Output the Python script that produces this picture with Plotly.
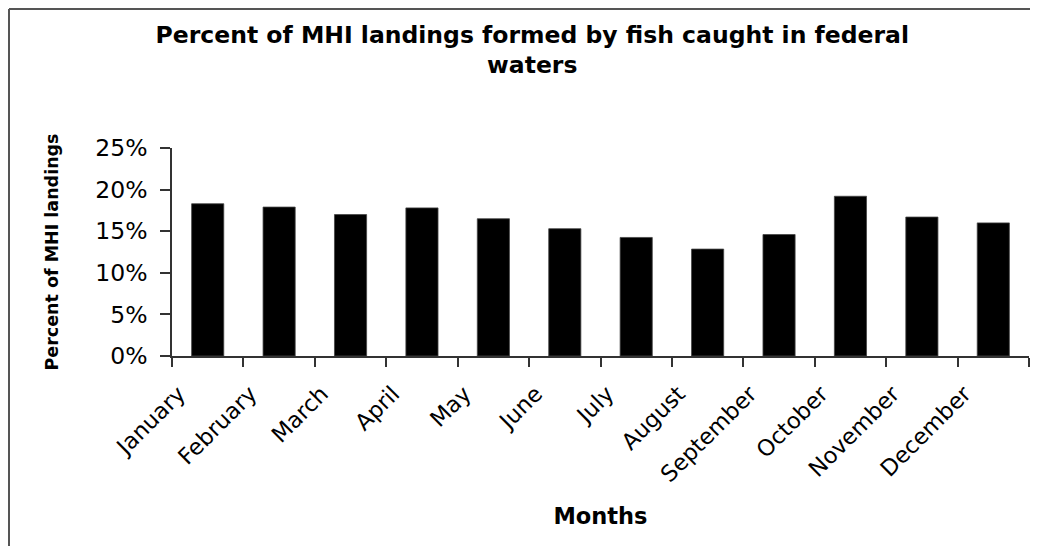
import plotly.graph_objects as go

months = ["January", "February", "March", "April", "May", "June", "July",
          "August", "September", "October", "November", "December"]
pct_federal = [0.183, 0.179, 0.170, 0.178, 0.165, 0.153, 0.1425,
               0.1285, 0.146, 0.192, 0.167, 0.160]
y_ticks = [0, 0.05, 0.10, 0.15, 0.20, 0.25]

FONT = "DejaVu Sans"
AX = "#333333"

fig = go.Figure()
fig.add_trace(go.Bar(
    x=months, y=pct_federal,
    marker=dict(color="black", line=dict(color="#444444", width=0.8)),
    width=0.45,
))

# the page body has an 8px margin, so the figure is sized to fit inside the window
W, H = 1022, 538
L, R, T, B = 164, 1, 140, 190
pw, ph = W - L - R, H - T - B

fig.update_layout(
    width=W, height=H,
    margin=dict(l=L, r=R, t=T, b=B),
    paper_bgcolor="white", plot_bgcolor="white",
    showlegend=False,
    font=dict(family=FONT, color="black"),
    title=dict(
        text="<b>Percent of MHI landings formed by fish caught in federal<br>waters</b>",
        font=dict(family=FONT, size=23.5, color="black"),
        x=0.513, xref="container", xanchor="center",
        y=1 - 34.5 / H, yref="container", yanchor="middle",
    ),
    xaxis=dict(
        type="category",
        range=[-0.5, 11.5],
        showline=True, linecolor=AX, linewidth=1.5,
        ticks="outside", tickson="boundaries", ticklen=9, tickwidth=1.5, tickcolor=AX,
        tickangle=-45,
        tickfont=dict(family=FONT, size=22.5, color="black"),
        ticklabelshift=-29, ticklabelstandoff=14,
        showgrid=False, zeroline=False,
        title=dict(text="<b>Months</b>", font=dict(family=FONT, size=22.5, color="black"), standoff=22),
    ),
    yaxis=dict(
        range=[0, 0.25],
        tickvals=y_ticks, tickformat=".0%",
        showline=True, linecolor=AX, linewidth=1.5,
        ticks="outside", ticklen=10, tickwidth=1.5, tickcolor=AX,
        tickfont=dict(family=FONT, size=23.5, color="black"),
        ticklabelstandoff=8,
        showgrid=False, zeroline=False,
        title=dict(text="<b>Percent of MHI landings</b>", font=dict(family=FONT, size=17.5, color="black"), standoff=32),
    ),
)

# chart-area frame: only its left and top edges fall inside the picture
frame = dict(color="#555555", width=2)
x_left = (1 - L) / pw
y_top = ((T + ph) - 1) / ph
fig.add_shape(type="line", xref="paper", yref="paper",
              x0=x_left, x1=x_left, y0=-(H - (T + ph)) / ph, y1=y_top, line=frame)
fig.add_shape(type="line", xref="paper", yref="paper",
              x0=x_left, x1=(W - L) / pw, y0=y_top, y1=y_top, line=frame)

fig.write_html("out.html")
